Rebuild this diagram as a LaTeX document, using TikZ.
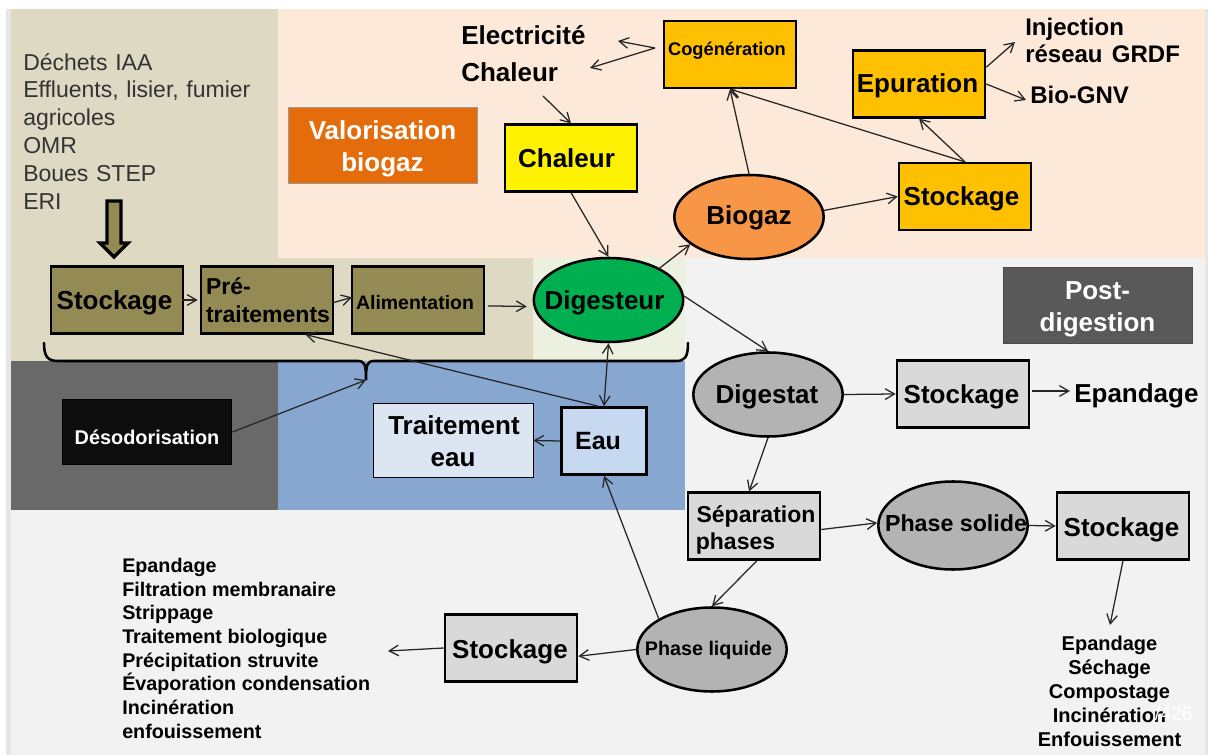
\documentclass[tikz,border=0pt]{standalone}
\usepackage{fontspec}
\setmainfont{Liberation Sans}
\usetikzlibrary{arrows.meta,shapes.geometric}
\definecolor{tanbg}{HTML}{DDD9C3}
\definecolor{peachbg}{HTML}{FDE9D9}
\definecolor{greenbg}{HTML}{EBF1DE}
\definecolor{greybg}{HTML}{F2F2F2}
\definecolor{stripbg}{HTML}{E6E6E6}
\definecolor{darkbg}{HTML}{696969}
\definecolor{bluebg}{HTML}{87A7D0}
\definecolor{olive}{HTML}{948A54}
\definecolor{amber}{HTML}{FFC000}
\definecolor{greyfill}{HTML}{D9D9D9}
\definecolor{ellgrey}{HTML}{B3B3B3}
\newcommand{\fs}[1]{\fontsize{#1}{#1}\selectfont}
\newcommand{\fsl}[2]{\fontsize{#1}{#2}\selectfont}
% \tl{dx}{dy}{text}: one line whose capitals are centred dx,dy pixels from the node centre
\newcommand{\tl}[3]{\makebox[0pt]{\hspace*{\dimexpr #1pt*3/2\relax}\smash{\raisebox{\dimexpr -0.36em-#2pt*3/4\relax}{#3}}}}
\tikzset{
  x=0.75pt,y=-0.75pt,
  conn/.style={draw=black!85,line width=0.95pt,-{Straight Barb[length=7pt,width=8pt,line width=0.95pt]}},
  connb/.style={draw=black!85,line width=0.95pt,{Straight Barb[length=7pt,width=8pt,line width=0.95pt]}-{Straight Barb[length=7pt,width=8pt,line width=0.95pt]}},
  boxn/.style={draw=black,line width=1.9pt,inner sep=0pt,minimum width=99pt,minimum height=50pt,align=center,font=\bfseries\fs{19.5}},
  elln/.style={ellipse,draw=black,line width=1.9pt,inner sep=0pt,minimum width=112pt,minimum height=63pt,align=center,font=\bfseries\fs{19.5}},
  lab/.style={inner sep=0pt,anchor=base west,font=\bfseries\fs{19.5}},
  banner/.style={draw=black!40,line width=0.5pt,text=white,font=\bfseries\fs{19.5},minimum width=141.5pt,minimum height=57pt,inner sep=0pt},
}
\begin{document}
\begin{tikzpicture}
\useasboundingbox (0,0) rectangle (1208,755);
\fill[white] (0,0) rectangle (1208,755);
% backgrounds
\fill[stripbg] (6,9) rectangle (11,755);
\fill[stripbg] (1205,9) rectangle (1208,755);
\fill[greybg] (11,258) rectangle (1205,755);
\fill[peachbg] (278,9) rectangle (1205,258);
\fill[tanbg] (11,9) rectangle (278,361);
\fill[tanbg] (278,258) rectangle (533,361);
\fill[greenbg] (533,258) rectangle (685,361);
\fill[darkbg] (11,361) rectangle (278,510);
\fill[bluebg] (278,361) rectangle (685,510);
% block arrow
\draw[black,line width=2.4pt,fill=olive] (107,201) -- (121,201) -- (121,243) -- (128,243) -- (114,257) -- (100,243) -- (107,243) -- cycle;
% brace
\draw[black,line width=1.9pt,line cap=round] (44,343) .. controls (44,357) and (48,361) .. (58,361) -- (358,361) .. controls (365,361) and (366,365) .. (366,380) .. controls (366,365) and (367,361) .. (374,361) -- (676,361) .. controls (685,361) and (688,357) .. (688,343);
% left text
\node[inner sep=0pt,anchor=north west,align=left,text=black!80,font=\fsl{17.25}{20.85},text width=240pt] (intr) at (23,53) {Déchets IAA\\Effluents, lisier, fumier\\agricoles\\OMR\\Boues STEP\\ERI};
% olive row
\node[boxn,fill=olive] (st1) at (117,300) {\tl{-2.5}{0}{Stockage}};
\node[boxn,fill=olive,font=\bfseries\fs{17.25}] (pre) at (267,300) {\tl{-38.5}{-14}{Pré-}\tl{1}{14}{traitements}};
\node[boxn,fill=olive,font=\bfseries\fs{14.6}] (ali) at (418,300) {\tl{-3}{2}{Alimentation}};
\node[elln,fill={rgb,255:red,0;green,176;blue,80}] (dig) at (608.5,300) {\tl{-4}{0}{Digesteur}};
% valorisation
\node[banner,fill={rgb,255:red,228;green,108;blue,10}] (val) at (382.5,145) {\tl{0}{-15}{Valorisation}\tl{0}{17}{biogaz}};
\node[boxn,fill=yellow] (chb) at (571,158) {\tl{-4.5}{0}{Chaleur}};
\node[boxn,fill=amber,font=\bfseries\fs{13.7}] (cog) at (730,54.5) {\tl{-3}{-6}{Cogénération}};
\node[boxn,fill=amber] (epu) at (919,84) {\tl{-1.5}{-1}{Epuration}};
\node[boxn,fill=amber] (st2) at (965,196.5) {\tl{-3.5}{0}{Stockage}};
\node[elln,fill={rgb,255:red,247;green,150;blue,70}] (bio) at (749,217) {\tl{0}{-2}{Biogaz}};
% post digestion
\node[banner,draw=black!70,fill={rgb,255:red,89;green,89;blue,89}] (post) at (1097.5,305) {\tl{0}{-15}{Post-}\tl{0}{17}{digestion}};
\node[elln,fill=ellgrey] (dgt) at (768,394.5) {\tl{-1}{0}{Digestat}};
\node[boxn,fill=greyfill] (st3) at (963,394) {\tl{-1.5}{0}{Stockage}};
\node[boxn,fill=greyfill,font=\bfseries\fs{17.25}] (sep) at (754,526) {\tl{2}{-12}{Séparation}\tl{-18.5}{15}{phases}};
\node[elln,fill=ellgrey,font=\bfseries\fs{17.4},minimum height=66pt] (sol) at (953,525.5) {\tl{3}{-2}{Phase solide}};
\node[boxn,fill=greyfill] (st4) at (1123,526) {\tl{-1.5}{1}{Stockage}};
\node[elln,fill=ellgrey,font=\bfseries\fs{14.8}] (liq) at (712,649.5) {\tl{-3.5}{-1.5}{Phase liquide}};
\node[boxn,fill=greyfill] (st5) at (511,648) {\tl{-1}{1}{Stockage}};
% water
\node[boxn,fill={rgb,255:red,198;green,217;blue,241},line width=2.3pt,minimum width=64pt,font=\bfseries\fs{18.75}] (eau) at (604,441) {\tl{-6}{0}{Eau}};
\node[draw=black,line width=0.6pt,fill={rgb,255:red,220;green,230;blue,242},minimum width=120pt,minimum height=56pt,inner sep=0pt,font=\bfseries\fs{19.5}] (tre) at (453,440.5) {\tl{1}{-15}{Traitement}\tl{0}{17}{eau}};
\node[draw=black,line width=1.2pt,fill={rgb,255:red,13;green,13;blue,13},text=white,minimum width=127pt,minimum height=49pt,inner sep=0pt,font=\bfseries\fs{14.9}] (des) at (147,432) {\tl{0}{5}{Désodorisation}};
% free labels
\node[lab] (elec) at (461,45) {Electricité};
\node[lab] (chal) at (461,82) {Chaleur};
\node[lab,font=\bfseries\fs{18}] (inj) at (1025,36) {Injection};
\node[lab,font=\bfseries\fs{18}] (res) at (1025,63) {réseau\ \kern-3pt\ GRDF};
\node[lab,font=\bfseries\fs{18}] (gnv) at (1030,104) {Bio-GNV};
\node[lab] (epa) at (1074,403) {Epandage};
\node[inner sep=0pt,anchor=north west,align=left,font=\bfseries\fsl{14.8}{17.75}] (lsl) at (122,558) {Epandage\\Filtration membranaire\\Strippage\\Traitement biologique\\Précipitation struvite\\Évaporation condensation\\Incinération\\enfouissement};
\node[inner sep=0pt,anchor=north,align=center,font=\bfseries\fsl{15}{18}] (lsr) at (1109.5,636) {Epandage\\Séchage\\Compostage\\Incinération\\Enfouissement};
\node[inner sep=0pt,anchor=base east,text=white,font=\fs{14.6}] (wm) at (1193,720) {/426};
% free ends
\coordinate (sCog) at (655,48);
\coordinate (eElec) at (618,41);
\coordinate (eChal) at (590,68);
\coordinate (sChal) at (543,96);
\coordinate (eInj) at (1015,42);
\coordinate (eGnv) at (1026,100);
\coordinate (sEpa) at (1032,391);
\coordinate (eEpa) at (1070,391);
\coordinate (eLsr) at (1110,625);
\coordinate (eLsl) at (388,651);
\coordinate (bTip) at (366,380);
% connectors
\draw[conn] (sCog) -- (eElec);
\draw[conn] (sCog) -- (eChal);
\draw[conn] (sChal) -- (chb.north);
\draw[conn] (chb.south) -- (dig.north);
\draw[conn] (dig.32) -- (bio.205);
\draw[conn] (bio.north) -- (cog.south);
\draw[conn] (bio.5) -- (st2.west);
\draw[conn] (st2.north) -- (epu.south);
\draw[conn] (st2.north) -- (cog.south);
\draw[conn] (epu.14) -- (eInj);
\draw[conn] (epu.east) -- (eGnv);
\draw[conn,shorten <=-2pt,shorten >=1.5pt] (st1.east) -- (pre.west);
\draw[conn,shorten <=-2pt,shorten >=-1pt] (pre.-2) -- (ali.178);
\draw[conn,shorten <=2pt,shorten >=5pt] (ali.-5) -- (dig.185);
\draw[conn] (eau.100) -- (pre.318);
\draw[connb] (dig.south) -- (eau.north);
\draw[conn] (eau.west) -- (tre.east);
\draw[conn] (des.east) -- (bTip);
\draw[conn] (dig.3) -- (dgt.north);
\draw[conn] (dgt.east) -- (st3.west);
\draw[conn] (sEpa) -- (eEpa);
\draw[conn] (dgt.south) -- (sep.98);
\draw[conn] (sep.-3) -- (sol.178);
\draw[conn] (sol.east) -- (st4.west);
\draw[conn] (st4.south) -- (eLsr);
\draw[conn] (sep.-85) -- (liq.north);
\draw[conn] (liq.150) -- (eau.south);
\draw[conn] (liq.west) -- (st5.-7);
\draw[conn] (st5.west) -- (eLsl);
\end{tikzpicture}
\end{document}
